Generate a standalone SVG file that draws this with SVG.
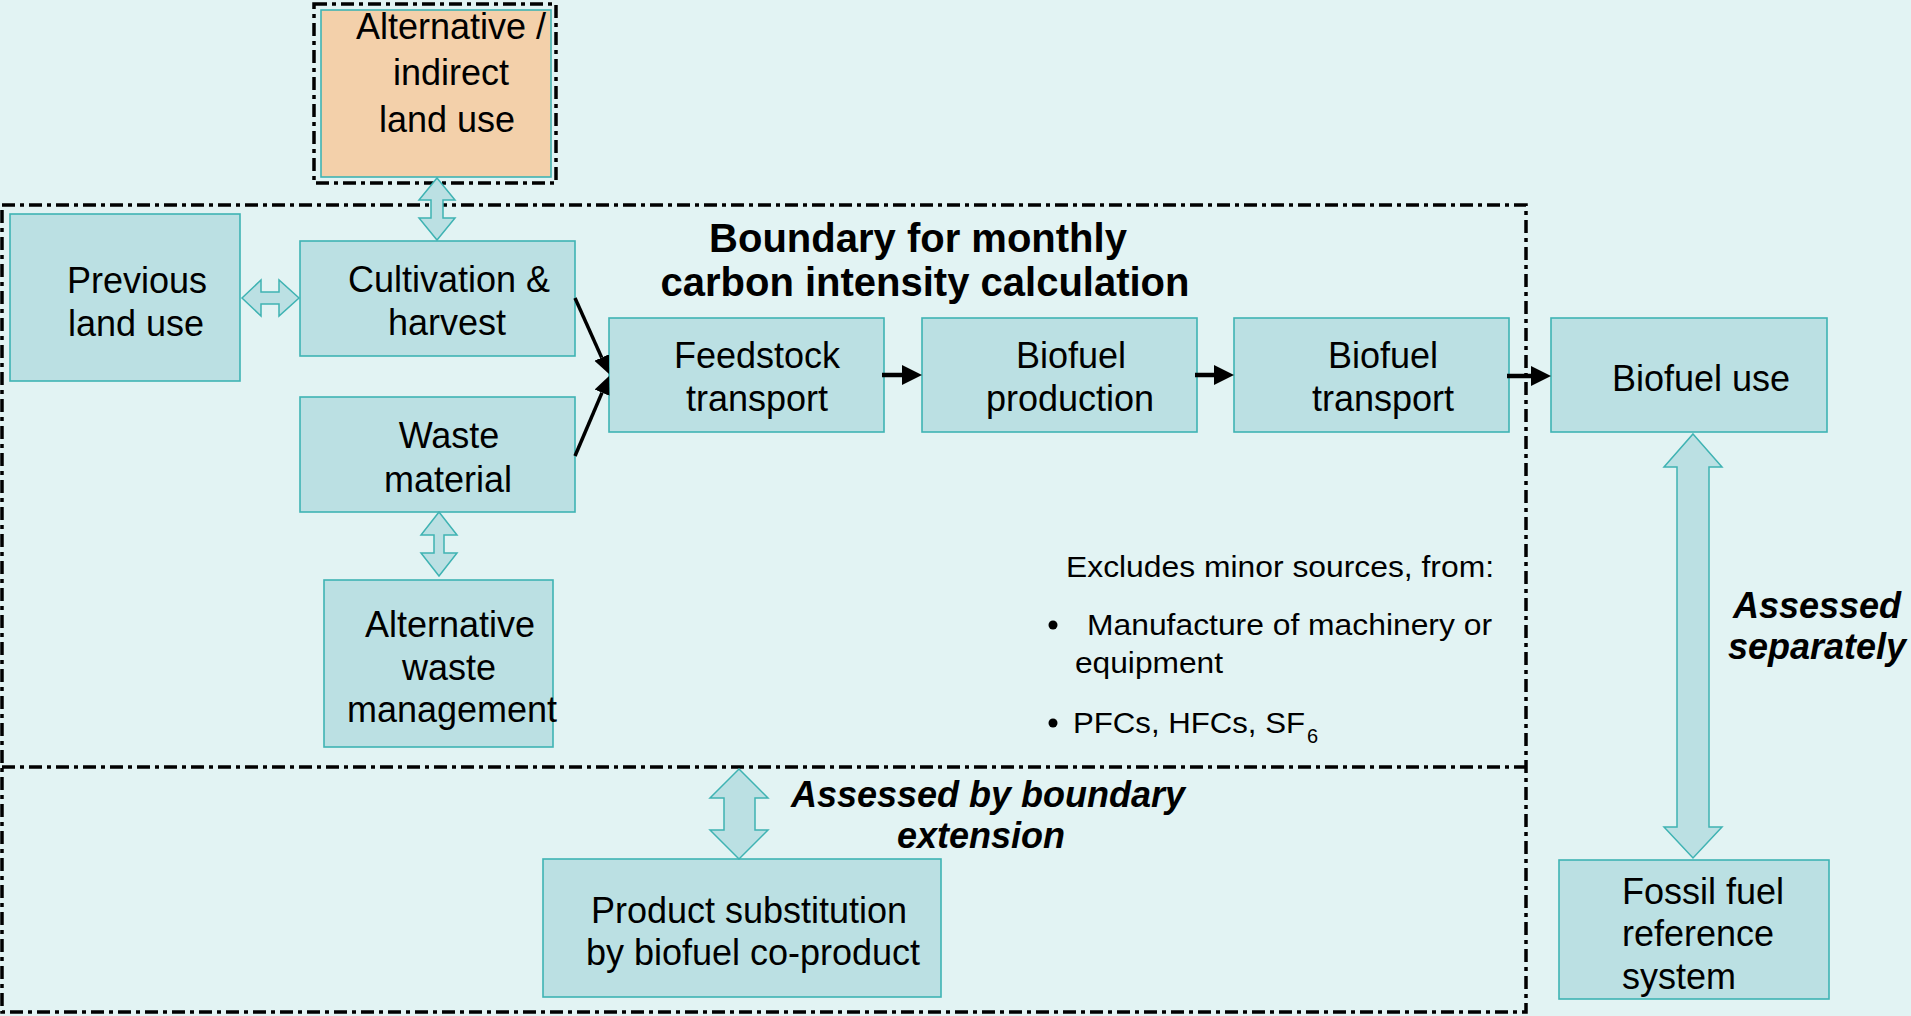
<svg xmlns="http://www.w3.org/2000/svg" width="1911" height="1016" viewBox="0 0 1911 1016">
  <style>
    .box { fill: #BBE0E3; stroke: #3FB3B3; stroke-width: 1.6; }
    .alt { fill: #F3D0AA; stroke: #3FB3B3; stroke-width: 1.6; }
    .bound { fill: none; stroke: #000; stroke-width: 3.5; stroke-dasharray: 13 5 4 5; }
    .dbl { fill: #BBE0E3; stroke: #3FB3B3; stroke-width: 1.5; stroke-linejoin: miter; }
    .lbl { font-family: "Liberation Sans", Arial, sans-serif; font-size: 36px; fill: #000; text-anchor: middle; }
    .left { text-anchor: start; }
    .title { font-family: "Liberation Sans", Arial, sans-serif; font-size: 40px; font-weight: bold; fill: #000; text-anchor: middle; }
    .note { font-family: "Liberation Sans", Arial, sans-serif; font-weight: bold; font-style: italic; font-size: 36px; fill: #000; text-anchor: middle; }
    .small { font-family: "Liberation Sans", Arial, sans-serif; font-size: 30px; fill: #000; }
    .flow { stroke: #000; stroke-width: 4.5; fill: none; }
    .feed { stroke: #000; stroke-width: 3.5; fill: none; }
  </style>
  <defs>
    <marker id="headBig" markerUnits="userSpaceOnUse" markerWidth="20" markerHeight="20" refX="0" refY="10" orient="auto">
      <path d="M0,0 L20,10 L0,20 z" fill="#000"/>
    </marker>
    <marker id="headSmall" markerUnits="userSpaceOnUse" markerWidth="18" markerHeight="18" refX="0" refY="9" orient="auto">
      <path d="M0,1 L18,9 L0,17 z" fill="#000"/>
    </marker>
  </defs>

  <!-- canvas -->
  <rect x="0" y="0" width="1911" height="1016" fill="#E2F3F3"/>

  <!-- system boundaries -->
  <g id="boundaries">
    <rect class="bound" x="2" y="205" width="1524" height="807"/>
    <line class="bound" x1="2" y1="767" x2="1526" y2="767"/>
    <rect class="bound" x="314" y="4" width="242" height="179"/>
  </g>

  <g id="boundary-title">
    <text class="title" x="918" y="252">Boundary for monthly</text>
    <text class="title" x="925" y="296">carbon intensity calculation</text>
  </g>

  <!-- process nodes -->
  <g id="alt-land-use">
    <rect class="alt" x="321" y="10" width="230" height="167"/>
    <text class="lbl" x="451" y="39">Alternative /</text>
    <text class="lbl" x="451" y="85">indirect</text>
    <text class="lbl" x="447" y="132">land use</text>
  </g>

  <g id="previous-land-use">
    <rect class="box" x="10" y="214" width="230" height="167"/>
    <text class="lbl" x="137" y="293">Previous</text>
    <text class="lbl" x="136" y="336">land use</text>
  </g>

  <g id="cultivation">
    <rect class="box" x="300" y="241" width="275" height="115"/>
    <text class="lbl" x="449" y="292">Cultivation &amp;</text>
    <text class="lbl" x="447" y="335">harvest</text>
  </g>

  <g id="waste-material">
    <rect class="box" x="300" y="397" width="275" height="115"/>
    <text class="lbl" x="449" y="448">Waste</text>
    <text class="lbl" x="448" y="492">material</text>
  </g>

  <g id="alt-waste-management">
    <rect class="box" x="324" y="580" width="229" height="167"/>
    <text class="lbl" x="450" y="637">Alternative</text>
    <text class="lbl" x="449" y="680">waste</text>
    <text class="lbl" x="452" y="722">management</text>
  </g>

  <g id="feedstock-transport">
    <rect class="box" x="609" y="318" width="275" height="114"/>
    <text class="lbl" x="757" y="368">Feedstock</text>
    <text class="lbl" x="757" y="411">transport</text>
  </g>

  <g id="biofuel-production">
    <rect class="box" x="922" y="318" width="275" height="114"/>
    <text class="lbl" x="1071" y="368">Biofuel</text>
    <text class="lbl" x="1070" y="411">production</text>
  </g>

  <g id="biofuel-transport">
    <rect class="box" x="1234" y="318" width="275" height="114"/>
    <text class="lbl" x="1383" y="368">Biofuel</text>
    <text class="lbl" x="1383" y="411">transport</text>
  </g>

  <g id="biofuel-use">
    <rect class="box" x="1551" y="318" width="276" height="114"/>
    <text class="lbl" x="1701" y="391">Biofuel use</text>
  </g>

  <g id="fossil-reference">
    <rect class="box" x="1559" y="860" width="270" height="139"/>
    <text class="lbl left" x="1622" y="904">Fossil fuel</text>
    <text class="lbl left" x="1622" y="946">reference</text>
    <text class="lbl left" x="1622" y="989">system</text>
  </g>

  <g id="product-substitution">
    <rect class="box" x="543" y="859" width="398" height="138"/>
    <text class="lbl" x="749" y="923">Product substitution</text>
    <text class="lbl" x="753" y="965">by biofuel co-product</text>
  </g>

  <!-- notes -->
  <g id="exclusions">
    <text class="small" x="1066" y="577" textLength="428" lengthAdjust="spacingAndGlyphs">Excludes minor sources, from:</text>
    <circle cx="1053" cy="625" r="4.5" fill="#000"/>
    <text class="small" x="1087" y="635" textLength="405" lengthAdjust="spacingAndGlyphs">Manufacture of machinery or</text>
    <text class="small" x="1075" y="673" textLength="148" lengthAdjust="spacingAndGlyphs">equipment</text>
    <circle cx="1053" cy="723" r="4.5" fill="#000"/>
    <text class="small" x="1073" y="733" textLength="232" lengthAdjust="spacingAndGlyphs">PFCs, HFCs, SF</text>
    <text class="small" x="1307" y="743" style="font-size:20px">6</text>
  </g>

  <g id="note-extension">
    <text class="note" x="988" y="807">Assessed by boundary</text>
    <text class="note" x="981" y="848">extension</text>
  </g>

  <g id="note-separately">
    <text class="note" x="1817" y="618">Assessed</text>
    <text class="note" x="1817" y="659">separately</text>
  </g>

  <!-- connectors -->
  <g id="connectors">
    <!-- two-way block arrows -->
    <path class="dbl" d="M437,178 L455,200 L443,200 L443,218 L455,218 L437,240 L419,218 L431,218 L431,200 L419,200 Z"/>
    <path class="dbl" d="M242,298 L261,280 L261,292 L279,292 L279,280 L299,298 L279,316 L279,304 L261,304 L261,316 Z"/>
    <path class="dbl" d="M439,512 L457,535 L444,535 L444,553 L457,553 L439,576 L421,553 L434,553 L434,535 L421,535 Z"/>
    <path class="dbl" d="M739,769 L768,798 L755,798 L755,830 L768,830 L739,859 L710,830 L724,830 L724,798 L710,798 Z"/>
    <path class="dbl" d="M1693,434 L1722,467 L1709,467 L1709,827 L1722,827 L1693,858 L1664,827 L1677,827 L1677,467 L1664,467 Z"/>

    <!-- feedstock supply -->
    <line class="feed" x1="575" y1="298" x2="601.7" y2="357.6" marker-end="url(#headSmall)"/>
    <line class="feed" x1="575" y1="456" x2="602" y2="392.6" marker-end="url(#headSmall)"/>

    <!-- main chain -->
    <line class="flow" x1="882" y1="375" x2="902" y2="375" marker-end="url(#headBig)"/>
    <line class="flow" x1="1195" y1="375" x2="1214" y2="375" marker-end="url(#headBig)"/>
    <line class="flow" x1="1507" y1="376" x2="1531" y2="376" marker-end="url(#headBig)"/>
  </g>
</svg>
